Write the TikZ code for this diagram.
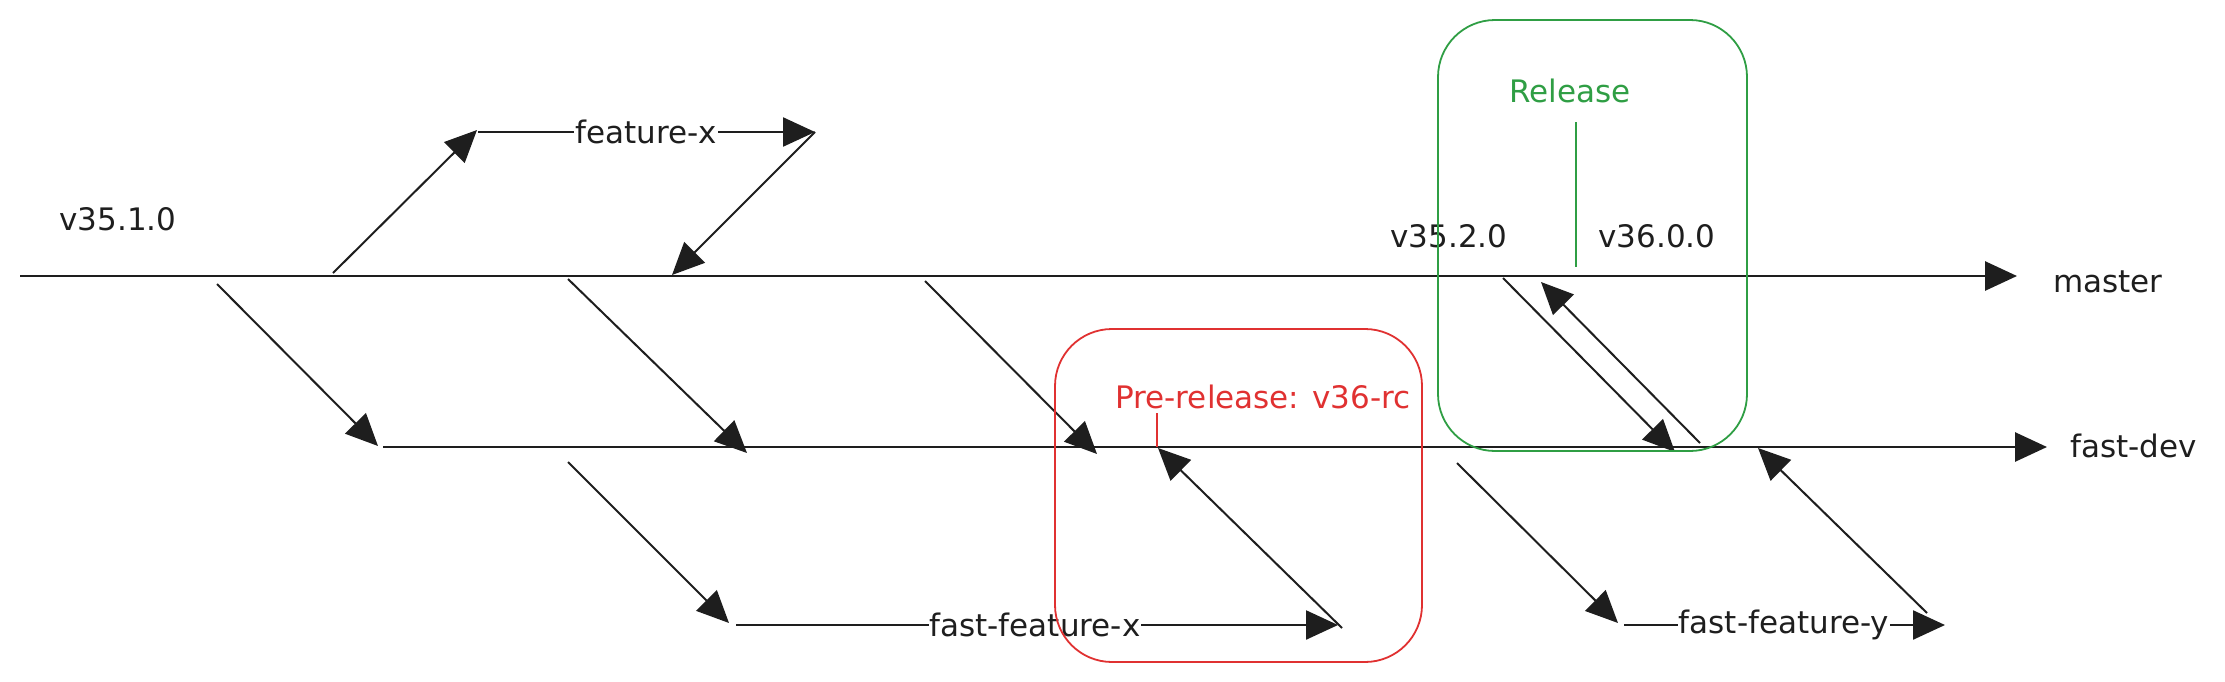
\documentclass[tikz,border=0pt]{standalone}
\usepackage{fontspec}
\setmainfont{DejaVu Sans}
\usetikzlibrary{arrows.meta}
\definecolor{ink}{HTML}{1E1E1E}
\definecolor{grn}{HTML}{2F9E44}
\definecolor{rd}{HTML}{E03131}
\begin{document}
\begin{tikzpicture}[x=1pt,y=-1pt,
  flow/.style={draw=ink, line width=2pt, -{Triangle[length=32pt,width=29pt]}},
  main/.style={flow, line width=2.8pt},
  hbar/.style={flow, line width=2.4pt},
  lbl/.style={font=\fontsize{31}{36}\selectfont, text=ink, inner sep=0pt},
  onl/.style={lbl, fill=white, inner sep=1pt},
  frame/.style={line width=1.8pt, rounded corners=57pt}]
\useasboundingbox (0,0) rectangle (2225,681);

% master line
\coordinate (m0) at (20,276);
\coordinate (m1) at (2017,276);
\draw[main] (m0) -- (m1);
\node[lbl, anchor=west] (master) at (2053,282) {master};

% fast-dev line
\coordinate (d0) at (383,447);
\coordinate (d1) at (2047,447);
\draw[main] (d0) -- (d1);
\node[lbl, anchor=west] (fastdev) at (2070,446) {fast-dev};

% version labels
\node[lbl] (v351) at (118,219) {v35.1.0};
\node[lbl] (v352) at (1449,236) {v35.2.0};
\node[lbl] (v360) at (1657,236) {v36.0.0};

% feature-x
\coordinate (fx0) at (333,273);
\coordinate (fx1) at (477,130);
\coordinate (fx2) at (478,132);
\coordinate (fx3) at (815,132);
\coordinate (fx4) at (672,275);
\draw[flow] (fx0) -- (fx1);
\draw[hbar] (fx2) -- (fx3);
\node[onl] (fxl) at (646,132) {feature-x};
\draw[flow] (fx3) -- (fx4);

% master -> fast-dev
\coordinate (a0) at (217,284);
\coordinate (a1) at (378,446);
\draw[flow] (a0) -- (a1);
\coordinate (b0) at (568,279);
\coordinate (b1) at (747,453);
\draw[flow] (b0) -- (b1);
\coordinate (c0) at (925,281);
\coordinate (c1) at (1097,454);
\draw[flow] (c0) -- (c1);

% fast-feature-x
\coordinate (e0) at (568,462);
\coordinate (e1) at (729,623);
\draw[flow] (e0) -- (e1);
\coordinate (ffx0) at (736,625);
\coordinate (ffx1) at (1338,625);
\draw[hbar] (ffx0) -- (ffx1);
\node[onl] (ffxl) at (1035,625) {fast-feature-x};
\coordinate (ffx2) at (1342,628);
\coordinate (ffx3) at (1158,448);
\draw[flow] (ffx2) -- (ffx3);

% release arrows
\coordinate (r0) at (1503,278);
\coordinate (r1) at (1675,452);
\draw[flow] (r0) -- (r1);
\coordinate (r2) at (1700,443);
\coordinate (r3) at (1541,282);
\draw[flow] (r2) -- (r3);

% fast-feature-y
\coordinate (f0) at (1457,463);
\coordinate (f1) at (1618,623);
\draw[flow] (f0) -- (f1);
\coordinate (ffy0) at (1624,625);
\coordinate (ffy1) at (1945,625);
\draw[hbar] (ffy0) -- (ffy1);
\node[onl] (ffyl) at (1784,625) {fast-feature-y};
\coordinate (ffy2) at (1927,613);
\coordinate (ffy3) at (1758,448);
\draw[flow] (ffy2) -- (ffy3);

% pre-release box
\draw[rd, frame] (1055,329) rectangle (1422,662);
\node[lbl, text=rd] (pre) at (1263,397) {Pre-release: v36-rc};
\coordinate (pt0) at (1157,413);
\coordinate (pt1) at (1157,447);
\draw[rd, line width=1.6pt] (pt0) -- (pt1);

% release box
\draw[grn, frame] (1438,20) rectangle (1747,451);
\node[lbl, text=grn] (rel) at (1570,91) {Release};
\coordinate (gt0) at (1576,122);
\coordinate (gt1) at (1576,267);
\draw[grn, line width=1.6pt] (gt0) -- (gt1);
\end{tikzpicture}
\end{document}
